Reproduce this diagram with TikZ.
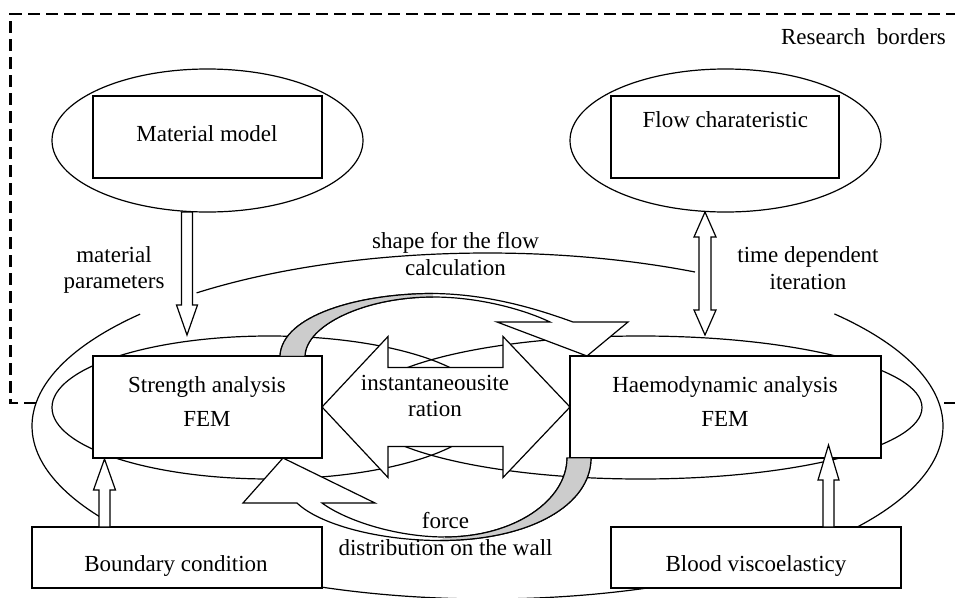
\documentclass[tikz,border=0pt]{standalone}
\usepackage{fontspec}
\setmainfont{Liberation Serif}
\usetikzlibrary{shapes.geometric,calc}
\definecolor{bandgray}{gray}{0.80}
\tikzset{
  box/.style={draw, line width=1.2pt, fill=white, rectangle, inner sep=0pt, outer sep=0pt},
  oval/.style={draw, line width=1.2pt, ellipse, inner sep=0pt, outer sep=0pt},
  fat/.style={draw, line width=1.2pt, fill=white, line join=miter},
  lbl/.style={font=\fontsize{23}{26.5}\selectfont, align=center, inner sep=0pt},
  boxlbl/.style={font=\fontsize{23}{34}\selectfont, align=center, inner sep=0pt},
  border/.style={line width=2.6pt, dash pattern=on 12pt off 6pt},
}
\newcommand{\hollowarrow}[4]{%
  \draw[fat] ($(#1)+(-5.5,0)$) -- ($(#2)+(-5.5,#4)$) -- ($(#2)+(-#3,#4)$) -- (#2)
    -- ($(#2)+(#3,#4)$) -- ($(#2)+(5.5,#4)$) -- ($(#1)+(5.5,0)$) -- cycle;}
\begin{document}
\begin{tikzpicture}[x=1pt,y=-1pt,line width=1.2pt]
\useasboundingbox (0,0) rectangle (955,597);
\clip (0,0) rectangle (955,597);

% big outer ellipse (pieces)
\draw plot[domain=147.5:220.3, samples=60, variable=\t] ({487.5+455.5*cos(\t)},{426+173*sin(\t)});
\draw plot[domain=230.3:297.1, samples=80, variable=\t] ({487.5+455.5*cos(\t)},{426+173*sin(\t)});
\draw plot[domain=-40.4:143, samples=150, variable=\t] ({487.5+455.5*cos(\t)},{426+173*sin(\t)});

% inner rings
\node[oval, minimum width=435pt, minimum height=143pt] (leftring) at (269.5,407.5) {};
\node[oval, minimum width=562.5pt, minimum height=143pt] (rightring) at (640.75,407.5) {};

% top ellipses and boxes
\node[oval, fill=white, minimum width=311pt, minimum height=143pt] (matell) at (207.5,140.5) {};
\node[box, minimum width=229pt, minimum height=82pt] (matbox) at (207.5,137) {};
\node[oval, fill=white, minimum width=311pt, minimum height=143pt] (flowell) at (725.5,140.5) {};
\node[box, minimum width=228pt, minimum height=82pt] (flowbox) at (725,137) {};

% main boxes
\node[box, minimum width=229pt, minimum height=102pt] (strength) at (207.5,407) {};
\node[box, minimum width=311pt, minimum height=102pt] (haemo) at (725.5,407) {};
\node[box, minimum width=290pt, minimum height=61pt] (boundary) at (177,557.5) {};
\node[box, minimum width=290pt, minimum height=61pt] (blood) at (756,557.5) {};

% central double arrow
\draw[fat] (strength.east) -- ($(strength.east)+(66,-70.5)$) -- ($(strength.east)+(66,-39.5)$)
  -- ($(haemo.west)+(-67,-39.5)$) -- ($(haemo.west)+(-67,-70.5)$) -- (haemo.west)
  -- ($(haemo.west)+(-67,70.5)$) -- ($(haemo.west)+(-67,39.5)$)
  -- ($(strength.east)+(66,39.5)$) -- ($(strength.east)+(66,70.5)$) -- cycle;

% upper curved arrow (strength -> haemo)
\draw[fat] (280,356) .. controls (282,315) and (360,293.5) .. (433,293.5)
  .. controls (490,294) and (540,310) .. (573,322) -- (628,322) -- (587,356) -- (497,322) -- (550,322)
  .. controls (525,310) and (480,297) .. (433,297)
  .. controls (365,297) and (306,325) .. (305,356) -- cycle;
\fill[bandgray] (280,355.5) .. controls (282,315) and (360,293.5) .. (433,293.5) -- (433,297)
  .. controls (365,297) and (306,325) .. (305,355.5) -- cycle;
\draw (280,356) .. controls (282,315) and (360,293.5) .. (433,293.5);
\draw (433,297) .. controls (365,297) and (306,325) .. (305,356);

% lower curved arrow (haemo -> strength)
\draw[fat] (591,458) .. controls (591,505) and (530,540.5) .. (440,540.5)
  .. controls (380,540.5) and (320,525) .. (297,503) -- (243,503) -- (283,458) -- (375,503) -- (322,503)
  .. controls (345,520) and (395,537) .. (445,537)
  .. controls (515,537) and (567,500) .. (567,458) -- cycle;
\fill[bandgray] (591,458.5) .. controls (591,505) and (530,540.5) .. (440,540.5) -- (445,537)
  .. controls (515,537) and (567,500) .. (567,458.5) -- cycle;
\draw (591,458) .. controls (591,505) and (530,540.5) .. (440,540.5);
\draw (445,537) .. controls (515,537) and (567,500) .. (567,458);

% hollow arrows
\coordinate (mpTail) at ($(matell.south)+(-20.5,0)$);
\coordinate (mpTip) at (187,335);
\hollowarrow{mpTail}{mpTip}{10.5}{-30}
\coordinate (bcTail) at ($(boundary.north west)+(72.5,0)$);
\coordinate (bcTip) at ($(strength.south west)+(11.5,1)$);
\hollowarrow{bcTail}{bcTip}{11}{31}
\coordinate (bvTail) at ($(blood.north west)+(217.5,0)$);
\coordinate (bvTip) at ($(haemo.south west)+(258.5,-13)$);
\hollowarrow{bvTail}{bvTip}{10.5}{35}

% flow double arrow
\coordinate (ftA) at ($(flowell.south)+(-20.5,0)$);
\coordinate (ftB) at (705,335);
\draw[fat] (ftA) -- ($(ftA)+(11,25)$) -- ($(ftA)+(6,25)$) -- ($(ftB)+(6,-25)$) -- ($(ftB)+(11,-25)$)
  -- (ftB) -- ($(ftB)+(-11,-25)$) -- ($(ftB)+(-6,-25)$) -- ($(ftA)+(-6,25)$) -- ($(ftA)+(-11,25)$) -- cycle;

% research border
\draw[border] (36,403) -- (10.5,403) -- (10.5,14) -- (962,14);
\draw[border] (944,403) -- (962,403);

% texts
\node[lbl, anchor=base] (tmat) at (207,141) {Material model};
\node[lbl, anchor=base] (tflow) at (725.3,127) {Flow charateristic};
\node[lbl, anchor=base] (tbound) at (176,571) {Boundary condition};
\node[lbl, anchor=base] (tblood) at (756,571.5) {Blood viscoelasticy};
\node[lbl, anchor=base] (tres) at (863.5,44) {Research\ \ borders};
\node[boxlbl] (tstr) at (207,402) {Strength analysis\\FEM};
\node[boxlbl] (thae) at (725,402) {Haemodynamic analysis\\FEM};
\node[lbl] (tmp) at (114,270) {material\\parameters};
\node[lbl] (ttd) at (808,268) {time dependent\\iteration};
\node[lbl] (tshape) at (455.5,254) {shape for the flow\\calculation};
\node[lbl] (tinst) at (435,396) {instantaneousite\\ration};
\node[lbl] (tforce) at (445.5,534) {force\\distribution on the wall};
\end{tikzpicture}
\end{document}
